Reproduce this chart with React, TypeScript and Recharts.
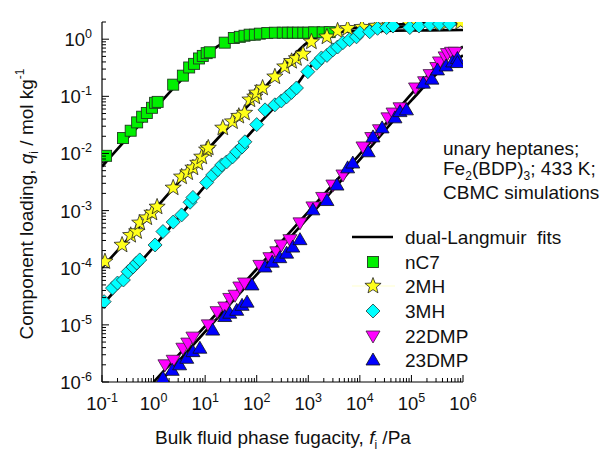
import React from 'react';
import { ComposedChart, Line, Scatter, XAxis, YAxis } from 'recharts';

// simulated loadings (x = fugacity / Pa, y = loading / mol kg-1)
const nC7Points = [
  [0.12, 0.0091], [0.255, 0.0186], [0.36, 0.025], [0.48, 0.035], [0.6, 0.044],
  [0.74, 0.051], [0.93, 0.063], [1.07, 0.077], [1.2, 0.08], [2.4, 0.16],
  [3.7, 0.23], [4.9, 0.32], [6.1, 0.37], [7.6, 0.46], [9, 0.51],
  [10.7, 0.57], [12.3, 0.59], [24, 0.87], [36, 1.05], [47, 1.1],
  [58, 1.15], [73, 1.2], [92, 1.2], [115, 1.25], [160, 1.28], [225, 1.3],
  [320, 1.3], [400, 1.3], [500, 1.3], [630, 1.3], [800, 1.3],
  [1000, 1.3], [1300, 1.32], [1900, 1.32], [2600, 1.33],
];
const mh2Points = [
  [0.114, 1.28e-4], [0.245, 2.5e-4], [0.36, 3.7e-4], [0.47, 4.3e-4], [0.54, 6.1e-4],
  [0.74, 7.5e-4], [0.93, 9.1e-4], [1.17, 0.00116], [2.4, 0.0025], [3.5, 0.0039],
  [4.6, 0.0046], [5.8, 0.0056], [7.2, 0.0068], [8.6, 0.0087], [10.7, 0.0116],
  [11.5, 0.0125], [22, 0.028], [34, 0.036], [45, 0.045], [58, 0.051],
  [74, 0.087], [92, 0.098], [100, 0.115], [130, 0.14], [225, 0.22],
  [350, 0.33], [475, 0.41], [590, 0.46], [790, 0.55], [1150, 0.9],
  [2300, 1.1], [3700, 1.4], [5800, 1.55], [1.1e4, 1.62], [2.1e4, 1.7],
  [3.8e4, 1.8], [9.3e4, 1.85], [2.6e5, 1.9], [4.8e5, 1.92], [9e5, 1.98],
];
const mh3Points = [
  [0.11, 2.55e-5], [0.16, 4.4e-5], [0.2, 5.4e-5], [0.26, 6.1e-5], [0.32, 8.5e-5],
  [0.4, 1.03e-4], [0.47, 1.21e-4], [0.54, 1.37e-4], [1.07, 2.5e-4], [1.52, 4.3e-4],
  [2.4, 6.3e-4], [3.5, 8.4e-4], [5.1, 0.0014], [5.8, 0.0017], [10.7, 0.0031],
  [14, 0.0042], [17.7, 0.0052], [21, 0.0063], [26, 0.0071], [34, 0.0087],
  [41, 0.0107], [52, 0.013], [59, 0.016], [100, 0.032], [145, 0.058],
  [225, 0.071], [300, 0.083], [380, 0.098], [475, 0.117], [590, 0.14],
  [980, 0.27], [1450, 0.38], [1800, 0.47], [2300, 0.52], [3000, 0.65],
  [3700, 0.73], [4700, 0.87], [6300, 0.98], [8600, 1.1], [1.0e4, 1.3],
  [1.55e4, 1.35], [2.2e4, 1.55], [3.3e4, 1.6], [4.4e4, 1.7], [9.3e4, 1.6],
  [1.4e5, 1.7], [2.3e5, 1.8], [3.5e5, 1.85], [5.5e5, 1.85],
];
const dmp22Points = [
  [1.66, 2.0e-6], [2.4, 2.4e-6], [3.7, 3.9e-6], [4.6, 4.8e-6], [5.8, 6.1e-6],
  [11.5, 1.0e-5], [17, 1.7e-5], [24, 2.05e-5], [30, 2.9e-5], [38, 3.3e-5],
  [47, 4.6e-5], [58, 5.4e-5], [115, 1.1e-4], [180, 1.5e-4], [245, 1.9e-4],
  [300, 2.5e-4], [440, 3.1e-4], [690, 6.1e-4], [1230, 0.00116], [1900, 0.0017],
  [3000, 0.0028], [4700, 0.0042], [1.15e4, 0.013], [1.7e4, 0.019], [2.4e4, 0.026],
  [3.5e4, 0.042], [4.4e4, 0.051], [6e4, 0.063], [1.2e5, 0.14], [1.8e5, 0.18],
  [2.3e5, 0.24], [3.1e5, 0.32], [3.5e5, 0.4], [4.5e5, 0.49], [5e5, 0.56],
  [6e5, 0.59], [7e5, 0.59],
];
const dmp23Points = [
  [1.52, 1.17e-6], [2.3, 1.6e-6], [3.2, 2.0e-6], [4.4, 2.6e-6], [5.8, 3.4e-6],
  [7.9, 3.9e-6], [14, 8.1e-6], [24, 1.4e-5], [30, 1.6e-5], [41, 1.8e-5],
  [52, 2.2e-5], [65, 2.5e-5], [81, 5.0e-5], [145, 1.03e-4], [200, 1.25e-4],
  [280, 1.5e-4], [380, 1.8e-4], [500, 2.3e-4], [690, 3.1e-4], [1230, 0.00103],
  [2300, 0.0015], [3600, 0.0028], [5800, 0.0056], [7300, 0.0068], [1.45e4, 0.0107],
  [1.8e4, 0.0195], [2.7e4, 0.028], [4.8e4, 0.042], [6e4, 0.054], [8e4, 0.058],
  [1.7e5, 0.17], [2.5e5, 0.2], [3.2e5, 0.29], [4.7e5, 0.34], [6.3e5, 0.4],
  [7.8e5, 0.46], [7.8e5, 0.39],
];

// dual-Langmuir fit curves
const nC7Fit = [
  [0.1, 0.0059], [0.3, 0.018], [1, 0.058], [3, 0.17], [10, 0.52], [30, 0.97],
  [100, 1.2], [300, 1.28], [1000, 1.32], [1e4, 1.38], [1e5, 1.42], [1e6, 1.45],
];
const mh2Fit = [
  [0.1, 1.0e-4], [1, 0.001], [10, 0.0105], [100, 0.1], [300, 0.3], [1000, 0.9],
  [3000, 1.35], [1e4, 1.6], [1e5, 1.85], [1e6, 2.0],
];
const mh3Fit = [
  [0.1, 2.2e-5], [1, 2.3e-4], [10, 0.0027], [100, 0.03], [300, 0.085], [600, 0.16],
  [1000, 0.3], [3000, 0.68], [1e4, 1.25], [1e5, 1.7], [1e6, 1.85],
];
const dmp22Fit = [
  [1, 1e-6], [10, 9.5e-6], [100, 9.5e-5], [1000, 9.5e-4], [1e4, 0.0097],
  [1e5, 0.11], [3e5, 0.33], [1e6, 0.74],
];
const dmp23Fit = [
  [1.33, 1e-6], [10, 7.6e-6], [100, 7.6e-5], [1000, 7.6e-4], [1e4, 0.0078],
  [1e5, 0.085], [3e5, 0.24], [1e6, 0.52],
];

const xDecades = [-1, 0, 1, 2, 3, 4, 5, 6];
const yDecades = [-6, -5, -4, -3, -2, -1, 0];
const minorSteps = [1, 2, 3, 4, 5, 6, 7, 8, 9];

const legendLabels = ['dual-Langmuir\u00a0\u00a0fits', 'nC7', '2MH', '3MH', '22DMP', '23DMP'];

const toXY = (arr: number[][]) => arr.map(([x, y]) => ({ x, y }));

const xTicks: number[] = [];
xDecades.slice(0, -1).forEach((e) => minorSteps.forEach((k) => xTicks.push(k * Math.pow(10, e))));
xTicks.push(1e6);
const yTicks: number[] = [];
yDecades.slice(0, -1).forEach((e) => minorSteps.forEach((k) => yTicks.push(k * Math.pow(10, e))));
yTicks.push(1, 2);

const FONT = '"Liberation Sans", Arial, sans-serif';

const isMajor = (v: number) => Math.abs(Math.log10(v) - Math.round(Math.log10(v))) < 1e-6;

const XTick = (props: any) => {
  const { x, y, payload } = props;
  const v = payload.value;
  const major = isMajor(v);
  return (
    <g>
      <line x1={x} x2={x} y1={y} y2={y - (major ? 7 : 4)} stroke="#000" strokeWidth={1} />
      {major && (
        <text x={x} y={y + 28} textAnchor="middle" fontFamily={FONT} fontSize={18.5} fill="#111">
          10
          <tspan dy={-8} fontSize={12.5}>{Math.round(Math.log10(v))}</tspan>
        </text>
      )}
    </g>
  );
};

const YTick = (props: any) => {
  const { x, y, payload } = props;
  const v = payload.value;
  const major = isMajor(v);
  return (
    <g>
      <line x1={x} x2={x + (major ? 7 : 4)} y1={y} y2={y} stroke="#000" strokeWidth={1} />
      {major && (
        <text x={x - 10} y={y + 7} textAnchor="end" fontFamily={FONT} fontSize={18.5} fill="#111">
          10
          <tspan dy={-8} fontSize={12.5}>{Math.round(Math.log10(v))}</tspan>
        </text>
      )}
    </g>
  );
};

const starPts = (cx: number, cy: number, R: number, r: number) =>
  Array.from({ length: 10 }, (_, i) => {
    const a = -Math.PI / 2 + (i * Math.PI) / 5;
    const rad = i % 2 === 0 ? R : r;
    return `${cx + rad * Math.cos(a)},${cy + rad * Math.sin(a)}`;
  }).join(' ');

const squareShape = (p: any) => (
  <rect x={p.cx - 5.5} y={p.cy - 5.5} width={11} height={11} fill="#00f000" stroke="#1f3a1f" strokeWidth={0.9} />
);
const starShape = (p: any) => (
  <polygon points={starPts(p.cx, p.cy, 8.5, 3.6)} fill="#ffff1a" stroke="#222" strokeWidth={0.8} />
);
const diamondShape = (p: any) => (
  <polygon
    points={`${p.cx},${p.cy - 7} ${p.cx + 7},${p.cy} ${p.cx},${p.cy + 7} ${p.cx - 7},${p.cy}`}
    fill="#00ffff" stroke="#1f3a3a" strokeWidth={0.8}
  />
);
const downShape = (p: any) => (
  <polygon
    points={`${p.cx - 7},${p.cy - 5} ${p.cx + 7},${p.cy - 5} ${p.cx},${p.cy + 7}`}
    fill="#ff00ff" stroke="#3a1f3a" strokeWidth={0.8}
  />
);
const upShape = (p: any) => (
  <polygon
    points={`${p.cx},${p.cy - 7} ${p.cx + 7},${p.cy + 5} ${p.cx - 7},${p.cy + 5}`}
    fill="#0000ff" stroke="#111" strokeWidth={0.8}
  />
);

const legendShapes = [squareShape, starShape, diamondShape, downShape, upShape];

export default function App() {
  const fits = [nC7Fit, mh2Fit, mh3Fit, dmp22Fit, dmp23Fit];
  const series = [
    { data: nC7Points, shape: squareShape },
    { data: mh2Points, shape: starShape },
    { data: mh3Points, shape: diamondShape },
    { data: dmp22Points, shape: downShape },
    { data: dmp23Points, shape: upShape },
  ];
  const legendY = [262, 286, 311, 336, 360];

  return (
    <div style={{ position: 'absolute', left: 0, top: 0, width: 605, height: 455, background: '#fff' }}>
      <ComposedChart width={605} height={455} margin={{ top: 22, right: 142, bottom: 0, left: 0 }}>
        <XAxis
          dataKey="x"
          type="number"
          scale="log"
          domain={[0.1, 1e6]}
          allowDataOverflow
          ticks={xTicks}
          interval={0}
          tick={<XTick />}
          tickLine={false}
          tickSize={0}
          tickMargin={0}
          height={73}
          axisLine={{ stroke: '#000', strokeWidth: 1.2 }}
        />
        <YAxis
          dataKey="y"
          type="number"
          scale="log"
          domain={[1e-6, 2]}
          allowDataOverflow
          ticks={yTicks}
          interval={0}
          tick={<YTick />}
          tickLine={false}
          tickSize={0}
          tickMargin={0}
          width={102}
          axisLine={{ stroke: '#000', strokeWidth: 1.2 }}
        />
        {fits.map((f, i) => (
          <Line
            key={`fit-${i}`}
            data={toXY(f)}
            dataKey="y"
            type="monotone"
            stroke="#000"
            strokeWidth={2.7}
            dot={false}
            activeDot={false}
            isAnimationActive={false}
          />
        ))}
        {series.map((s, i) => (
          <Scatter key={`pts-${i}`} data={toXY(s.data)} shape={s.shape} isAnimationActive={false} />
        ))}
      </ComposedChart>

      <svg width={605} height={455} style={{ position: 'absolute', left: 0, top: 0, pointerEvents: 'none' }}>
        <g fontFamily={FONT} fill="#111" fontSize={19}>
          <text transform="translate(33,204) rotate(-90)" textAnchor="middle">
            Component loading, <tspan fontStyle="italic">q</tspan>
            <tspan fontSize={12} dy={5}>i</tspan>
            <tspan dy={-5}> / mol kg</tspan>
            <tspan fontSize={12} dy={-9}>-1</tspan>
          </text>
          <text x={283} y={444} textAnchor="middle">
            Bulk fluid phase fugacity, <tspan fontStyle="italic">f</tspan>
            <tspan fontSize={12} dy={5}>i</tspan>
            <tspan dy={-5}> /Pa</tspan>
          </text>

          <text x={443} y={155}>unary heptanes;</text>
          <text x={443} y={175}>
            Fe<tspan fontSize={12} dy={5}>2</tspan>
            <tspan dy={-5}>(BDP)</tspan>
            <tspan fontSize={12} dy={5}>3</tspan>
            <tspan dy={-5}>; 433 K;</tspan>
          </text>
          <text x={443} y={199}>CBMC simulations</text>

          <line x1={352} x2={393} y1={237} y2={237} stroke="#000" strokeWidth={2.5} />
          <text x={405} y={244}>{legendLabels[0]}</text>
          <line x1={352} x2={395} y1={legendY[1]} y2={legendY[1]} stroke="#ffffc0" strokeWidth={0.8} />
          {legendShapes.map((sh, i) => (
            <g key={`lg-${i}`}>
              {sh({ cx: 373, cy: legendY[i] })}
              <text x={405} y={legendY[i] + 7}>{legendLabels[i + 1]}</text>
            </g>
          ))}
        </g>
      </svg>
    </div>
  );
}
